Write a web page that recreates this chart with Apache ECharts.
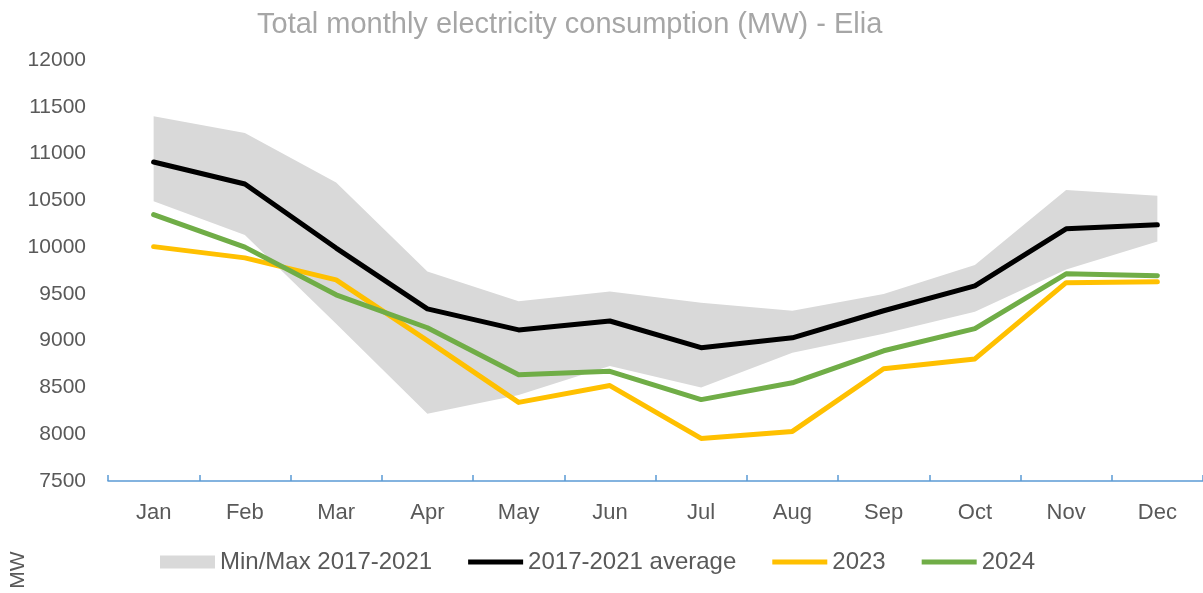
<!DOCTYPE html>
<html>
<head>
<meta charset="utf-8">
<script src="https://cdn.jsdelivr.net/npm/echarts@6/dist/echarts.min.js"></script>
<style>
  html, body { margin: 0; padding: 0; background: #fff; }
  #chart { width: 1203px; height: 593px; }
</style>
</head>
<body>
<div id="chart"></div>
<script>
// months on the x axis
var months = ['Jan', 'Feb', 'Mar', 'Apr', 'May', 'Jun', 'Jul', 'Aug', 'Sep', 'Oct', 'Nov', 'Dec'];

// min / max band 2017-2021 (MW)
var bandMin = [10490, 10130, 9180, 8220, 8420, 8730, 8500, 8870, 9075, 9310, 9760, 10060];
var bandMax = [11400, 11220, 10690, 9740, 9420, 9525, 9405, 9320, 9500, 9810, 10610, 10550];

// lines (MW)
var avg1721 = [10910, 10675, 9990, 9340, 9115, 9210, 8925, 9030, 9320, 9585, 10195, 10238];
var y2023 = [10005, 9885, 9650, 9000, 8340, 8520, 7955, 8030, 8700, 8805, 9620, 9630];
var y2024 = [10348, 10000, 9490, 9138, 8636, 8672, 8370, 8550, 8892, 9128, 9715, 9694];

var yTicks = { min: 7500, max: 12000, step: 500 };

var bandSpan = bandMax.map(function (v, i) { return v - bandMin[i]; });

var chart = echarts.init(document.getElementById('chart'));
var font = 'Liberation Sans, Arial, sans-serif';
// thick line legend icon, 5px bar centred in a 55x13 box
var lineIcon = 'path://M0,0 M55,13 M0,4 L55,4 L55,9 L0,9 Z';

chart.setOption({
  animation: false,
  textStyle: { fontFamily: font },
  title: {
    text: 'Total monthly electricity consumption (MW) - Elia',
    left: 252,
    top: 5,
    textStyle: { fontSize: 29, fontWeight: 'normal', color: '#a6a6a6', fontFamily: font }
  },
  legend: {
    left: 155,
    top: 545,
    itemWidth: 55,
    itemHeight: 13,
    itemGap: 36,
    textStyle: { fontSize: 24, color: '#595959', fontFamily: font },
    data: [
      { name: 'Min/Max 2017-2021', icon: 'rect' },
      { name: '2017-2021 average', icon: lineIcon },
      { name: '2023', icon: lineIcon },
      { name: '2024', icon: lineIcon }
    ]
  },
  grid: { left: 108, right: 0, top: 60, bottom: 112 },
  xAxis: {
    type: 'category',
    data: months,
    boundaryGap: true,
    axisLine: { lineStyle: { color: '#5b9bd5', width: 1.5 } },
    axisTick: { show: true, inside: true, length: 6, lineStyle: { color: '#5b9bd5', width: 1.5 } },
    axisLabel: { fontSize: 22, color: '#595959', margin: 21, fontFamily: font },
    splitLine: { show: false }
  },
  yAxis: {
    type: 'value',
    min: yTicks.min,
    max: yTicks.max,
    interval: yTicks.step,
    axisLine: { show: false },
    axisTick: { show: false },
    splitLine: { show: false },
    axisLabel: {
      fontSize: 21, color: '#595959', margin: 22, fontFamily: font,
      formatter: function (v) { return String(v); }
    }
  },
  graphic: [{
    type: 'text',
    x: 18,
    y: 570,
    rotation: Math.PI / 2,
    style: { text: 'MW', fontSize: 21, fill: '#595959', align: 'center', verticalAlign: 'middle', fontFamily: font }
  }],
  series: [
    {
      name: 'bandBase',
      type: 'line',
      stack: 'band',
      data: bandMin,
      symbol: 'none',
      lineStyle: { opacity: 0 },
      silent: true,
      z: 1
    },
    {
      name: 'Min/Max 2017-2021',
      type: 'line',
      stack: 'band',
      data: bandSpan,
      symbol: 'none',
      lineStyle: { opacity: 0 },
      itemStyle: { color: '#d9d9d9' },
      areaStyle: { color: '#d9d9d9', opacity: 1 },
      z: 1
    },
    {
      name: '2017-2021 average',
      type: 'line',
      data: avg1721,
      symbol: 'none',
      itemStyle: { color: '#000000' },
      lineStyle: { color: '#000000', width: 5, cap: 'round', join: 'round' },
      z: 2
    },
    {
      name: '2023',
      type: 'line',
      data: y2023,
      symbol: 'none',
      itemStyle: { color: '#ffc000' },
      lineStyle: { color: '#ffc000', width: 5, cap: 'round', join: 'round' },
      z: 3
    },
    {
      name: '2024',
      type: 'line',
      data: y2024,
      symbol: 'none',
      itemStyle: { color: '#70ad47' },
      lineStyle: { color: '#70ad47', width: 5, cap: 'round', join: 'round' },
      z: 4
    }
  ]
});
</script>
</body>
</html>
